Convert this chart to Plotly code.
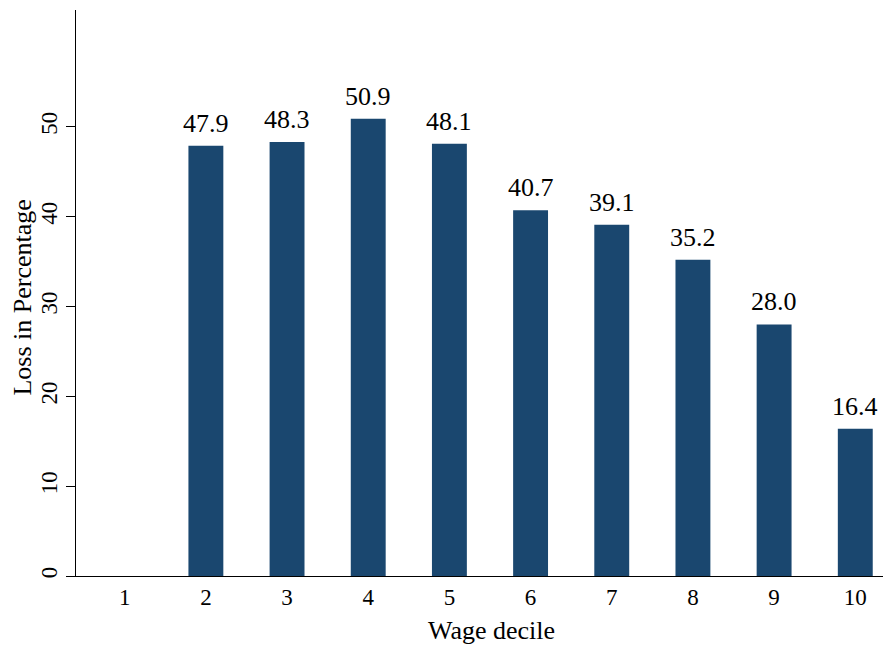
import plotly.graph_objects as go

# Wage deciles and loss (%)
deciles = [1, 2, 3, 4, 5, 6, 7, 8, 9, 10]
loss_pct = [None, 47.9, 48.3, 50.9, 48.1, 40.7, 39.1, 35.2, 28.0, 16.4]
y_ticks = [0, 10, 20, 30, 40, 50]

FONT = "Liberation Serif"
BAR_COLOR = "#1a476f"

fig = go.Figure()

fig.add_trace(go.Bar(
    x=deciles,
    y=loss_pct,
    width=0.43,
    marker=dict(color=BAR_COLOR, line=dict(width=0)),
    hoverinfo="x+y",
))

# value labels above the bars
for d, v in zip(deciles, loss_pct):
    if v is None:
        continue
    fig.add_annotation(
        x=d, y=v, text=f"{v:.1f}",
        showarrow=False, yanchor="bottom", yshift=6,
        font=dict(family=FONT, size=26, color="black"),
    )

# axis titles placed as annotations (Stata-like placement)
fig.add_annotation(
    xref="paper", yref="paper", x=0.51, y=0, yanchor="top", yshift=-38,
    text="Wage decile", showarrow=False,
    font=dict(family=FONT, size=26, color="black"),
)
fig.add_annotation(
    xref="paper", yref="paper", x=0, y=0.492, xanchor="center", xshift=-53,
    text="Loss in Percentage", textangle=-90, showarrow=False,
    font=dict(family=FONT, size=26, color="black"),
)

fig.update_layout(
    width=891, height=646,
    margin=dict(l=68, r=8, t=2, b=78),
    paper_bgcolor="white",
    plot_bgcolor="white",
    showlegend=False,
    font=dict(family=FONT, size=23, color="black"),
    xaxis=dict(
        range=[0.4, 10.44],
        tickmode="array",
        tickvals=deciles,
        ticktext=[str(d) for d in deciles],
        ticks="",
        showline=True, linecolor="black", linewidth=1.3,
        showgrid=False, zeroline=False,
        automargin=False,
        tickfont=dict(size=23),
    ),
    yaxis=dict(
        range=[0, 63],
        tickmode="array",
        tickvals=y_ticks,
        ticks="outside", ticklen=9, tickwidth=1.3, tickcolor="black",
        tickangle=-90,
        ticklabelstandoff=0,
        showline=True, linecolor="black", linewidth=1.3,
        showgrid=False, zeroline=False,
        automargin=False,
        tickfont=dict(size=23),
    ),
)

fig.write_html("out.html")
